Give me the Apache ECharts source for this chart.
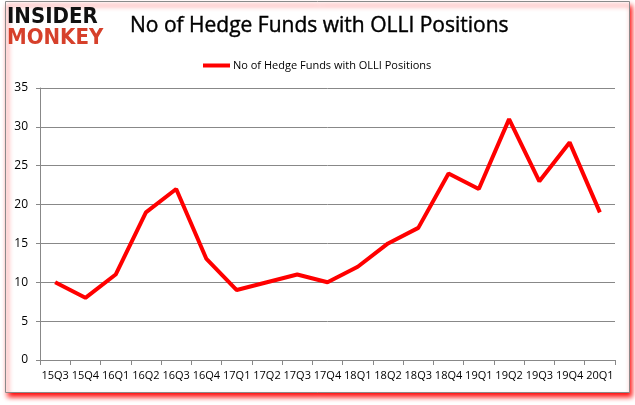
<!DOCTYPE html>
<html><head><meta charset="utf-8">
<script src="https://cdn.jsdelivr.net/npm/echarts@6/dist/echarts.min.js"></script>
<style>html,body{margin:0;padding:0;background:#fff}#c{width:635px;height:405px}</style>
</head><body><div id="c"></div>
<script>
const categories = ['15Q3','15Q4','16Q1','16Q2','16Q3','16Q4','17Q1','17Q2','17Q3','17Q4','18Q1','18Q2','18Q3','18Q4','19Q1','19Q2','19Q3','19Q4','20Q1'];
const hedgeFunds = [10,8,11,19,22,13,9,10,11,10,12,15,17,24,22,31,23,28,19];
const seriesName = 'No of Hedge Funds with OLLI Positions';
const titleText = 'No of Hedge Funds with OLLI Positions';

const chart = echarts.init(document.getElementById('c'), null, {renderer:'canvas'});
chart.setOption({
  animation:false,
  backgroundColor:'#fff',
  graphic:[
    {type:'rect', z:-10, shape:{x:5.5,y:1.5,width:624,height:391},
     style:{fill:'#fff', stroke:'#8a8a8a', lineWidth:1, shadowBlur:5, shadowColor:'rgba(255,0,0,1)', shadowOffsetX:2, shadowOffsetY:4}},
    {type:'text', left:7, top:6, style:{text:'INSIDER', font:'bold 22px "DejaVu Sans Condensed", "DejaVu Sans", sans-serif', fill:'#111'}},
    {type:'text', left:7, top:27, style:{text:'MONKEY', font:'bold 22px "DejaVu Sans Condensed", "DejaVu Sans", sans-serif', fill:'#d6402b'}}
  ],
  title:{text:titleText, left:125, top:11, textStyle:{fontFamily:'"Open Sans", sans-serif', fontSize:21, fontWeight:'normal', color:'#000', textBorderColor:'#000', textBorderWidth:0.4}},
  legend:{top:55, left:198, itemWidth:27, itemHeight:4, itemGap:4, icon:'rect',
    textStyle:{fontFamily:'"Open Sans", sans-serif', fontSize:11, color:'#000', padding:[0,0,0,-2]},
    data:[seriesName]},
  grid:{left:40, right:20, top:88, bottom:45},
  xAxis:{type:'category', data:categories, boundaryGap:true,
    axisLine:{lineStyle:{color:'#888'}},
    axisTick:{show:true, alignWithLabel:false, length:5, lineStyle:{color:'#888'}},
    axisLabel:{interval:0, color:'#000', fontFamily:'"Open Sans", sans-serif', fontSize:11, margin:10}},
  yAxis:{type:'value', min:0, max:35, interval:5,
    axisLine:{show:true, lineStyle:{color:'#888'}},
    axisTick:{show:true, length:4, lineStyle:{color:'#888'}},
    splitLine:{lineStyle:{color:'#888'}},
    axisLabel:{color:'#000', fontFamily:'"Open Sans", sans-serif', fontSize:12, margin:12}},
  series:[{name:seriesName, type:'line', data:hedgeFunds, showSymbol:false, symbol:'none',
    lineStyle:{color:'#ff0000', width:4}, itemStyle:{color:'#ff0000'}}]
});
</script></body></html>
